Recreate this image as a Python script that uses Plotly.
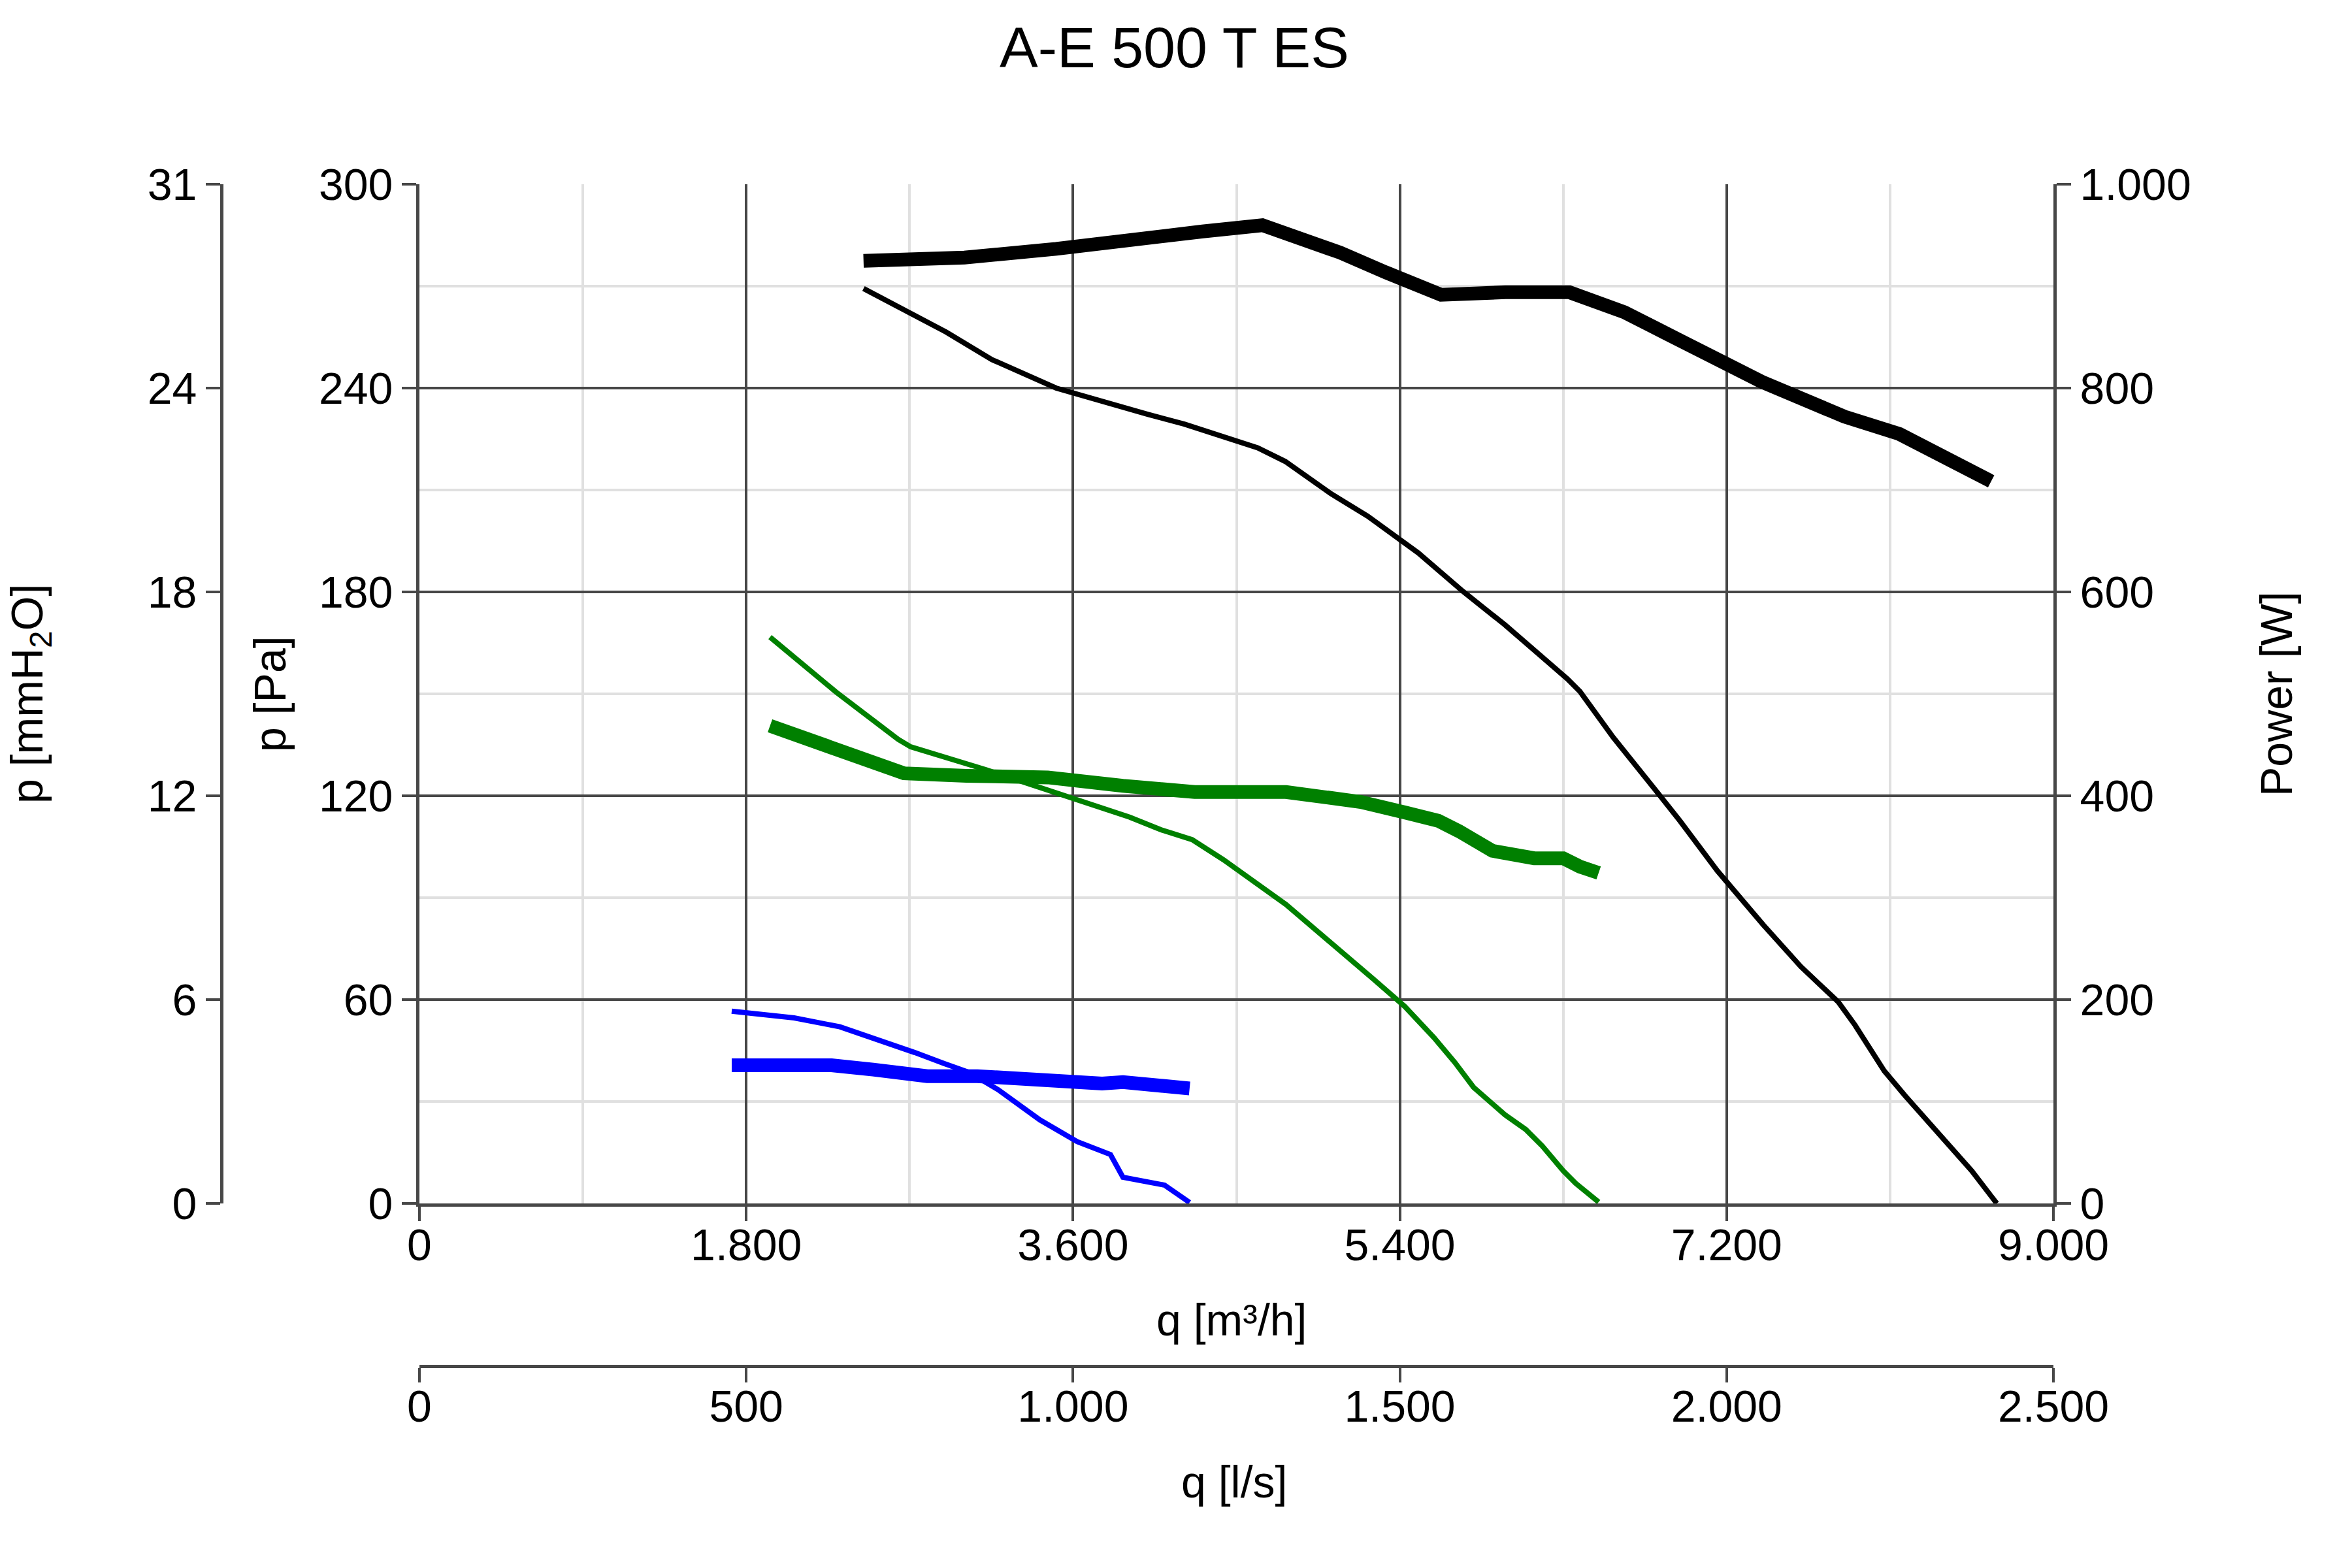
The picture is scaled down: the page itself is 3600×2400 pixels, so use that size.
import plotly.graph_objects as go

# ---------------- data ----------------
# Blue curve (low speed)
blue_q_p = [1720, 2064, 2316, 2499, 2729, 2889, 3027, 3187, 3417, 3623, 3806, 3875, 4104, 4242]
blue_pa = [56.6, 54.6, 52.0, 48.8, 44.4, 41.2, 38.6, 33.5, 24.6, 18.2, 14.4, 7.7, 5.4, 0.3]
blue_q_w = [1720, 2270, 2499, 2797, 3073, 3417, 3646, 3760, 3875, 4104, 4242]
blue_w = [135.5, 135.5, 131.3, 124.9, 124.9, 120.2, 117.0, 117.7, 119.1, 114.9, 112.8]

# Green curve (medium speed)
green_q_p = [1931, 2293, 2637, 2706, 3119, 3326, 3602, 3912, 4084, 4256, 4428, 4773, 5255,
             5427, 5588, 5703, 5806, 5979, 6093, 6185, 6300, 6369, 6495]
green_pa = [166.7, 150.6, 136.6, 134.4, 127.7, 124.0, 119.3, 113.7, 110.0, 107.1, 101.2, 88.0, 66.0,
            58.0, 48.8, 41.5, 34.2, 26.1, 21.8, 16.9, 9.6, 5.9, 0.4]
green_q_w = [1931, 2293, 2669, 3013, 3461, 3874, 4270, 4773, 5186, 5427, 5611, 5726, 5864,
             5910, 6140, 6300, 6392, 6495]
green_w = [468.7, 445.4, 422.0, 419.6, 418.0, 409.8, 403.7, 403.7, 393.9, 383.6, 375.5, 365.2, 348.9,
           346.0, 338.7, 338.7, 330.5, 324.3]

# Black curve (high speed)
black_q_p = [2446, 2901, 3153, 3507, 4011, 4213, 4617, 4769, 5021, 5223, 5501, 5749, 5979, 6323,
             6392, 6575, 6851, 6943, 7149, 7402, 7609, 7815, 7907, 8068, 8183, 8366, 8550, 8688]
black_pa = [269.3, 256.5, 248.4, 240.0, 232.3, 229.4, 222.4, 218.4, 208.9, 202.3, 191.5, 180.1, 170.3, 154.4,
            150.7, 137.2, 118.8, 112.6, 97.9, 82.0, 69.7, 59.3, 52.5, 39.0, 31.7, 20.6, 9.6, 0.0]
black_q_w = [2446, 3002, 3507, 3961, 4314, 4643, 4819, 5072, 5324, 5627, 5981, 6334, 6637, 7091,
             7394, 7849, 8152, 8657]
black_w = [924.9, 928.0, 936.6, 947.6, 953.7, 959.8, 950.0, 932.9, 913.4, 891.5, 894.0, 894.0, 874.4, 835.4,
           806.1, 772.0, 754.9, 708.5]

# Axis ticks
q_m3h_ticks = [0, 1800, 3600, 5400, 7200, 9000]
q_m3h_labels = ["0", "1.800", "3.600", "5.400", "7.200", "9.000"]
q_m3h_minor = [900, 2700, 4500, 6300, 8100]
q_ls_ticks = [0, 500, 1000, 1500, 2000, 2500]
q_ls_labels = ["0", "500", "1.000", "1.500", "2.000", "2.500"]
pa_ticks = [0, 60, 120, 180, 240, 300]
pa_labels = ["0", "60", "120", "180", "240", "300"]
pa_minor = [30, 90, 150, 210, 270]
mmh2o_labels = ["0", "6", "12", "18", "24", "31"]
w_ticks = [0, 200, 400, 600, 800, 1000]
w_labels = ["0", "200", "400", "600", "800", "1.000"]

# ---------------- style ----------------
W, H = 3600, 2400
FONT = "Liberation Sans, Arial, sans-serif"
FS = 68
AX = "#474747"
GRID_MAJOR = "#474747"
GRID_MINOR = "#e0e0e0"
THIN = 8
THICK = 21

x0, x1 = 642 / W, 3143 / W
y0, y1 = 1 - 1842 / H, 1 - 282 / H

fig = go.Figure()


def add(q, v, color, width, yaxis):
    fig.add_trace(go.Scatter(x=q, y=v, mode="lines", yaxis=yaxis, xaxis="x",
                             line=dict(color=color, width=width), hoverinfo="x+y",
                             showlegend=False))


add(blue_q_p, blue_pa, "#0000ff", THIN, "y")
add(green_q_p, green_pa, "#008000", THIN, "y")
add(black_q_p, black_pa, "#000000", THIN, "y")
add(blue_q_w, blue_w, "#0000ff", THICK, "y3")
add(green_q_w, green_w, "#008000", THICK, "y3")
add(black_q_w, black_w, "#000000", THICK, "y3")

axis_common = dict(showline=True, linecolor=AX, linewidth=5, ticks="outside", ticklen=22,
                   tickwidth=4, tickcolor=AX, zeroline=False, automargin=False,
                   tickfont=dict(family=FONT, size=FS, color="black"))

fig.update_layout(
    width=W, height=H,
    margin=dict(l=0, r=0, t=0, b=0, pad=0, autoexpand=False),
    paper_bgcolor="white", plot_bgcolor="white",
    font=dict(family=FONT, size=FS, color="black"),
    xaxis=dict(domain=[x0, x1], range=[0, 9000], tickmode="array",
               tickvals=q_m3h_ticks, ticktext=q_m3h_labels, ticklabelstandoff=-22,
               showgrid=True, gridcolor=GRID_MAJOR, gridwidth=4,
               minor=dict(tickvals=q_m3h_minor, showgrid=True, gridcolor=GRID_MINOR,
                          gridwidth=4, ticks=""),
               anchor="y", **axis_common),
    xaxis2=dict(overlaying="x", anchor="free", position=1 - 2091 / H, side="bottom",
                range=[0, 2500], tickmode="array", tickvals=q_ls_ticks, ticktext=q_ls_labels,
                ticklabelstandoff=-22, showgrid=False, **axis_common),
    yaxis=dict(domain=[y0, y1], range=[0, 300], tickmode="array",
               tickvals=pa_ticks, ticktext=pa_labels,
               showgrid=True, gridcolor=GRID_MAJOR, gridwidth=4,
               minor=dict(tickvals=pa_minor, showgrid=True, gridcolor=GRID_MINOR,
                          gridwidth=4, ticks=""),
               anchor="x", **axis_common),
    yaxis2=dict(overlaying="y", anchor="free", position=339 / W, side="left",
                range=[0, 300], tickmode="array", tickvals=pa_ticks, ticktext=mmh2o_labels,
                showgrid=False, **axis_common),
    yaxis3=dict(overlaying="y", anchor="x", side="right",
                range=[0, 1000], tickmode="array", tickvals=w_ticks, ticktext=w_labels,
                showgrid=False, **axis_common),
)

# empty trace to activate xaxis2 / yaxis2
fig.add_trace(go.Scatter(x=[None], y=[None], xaxis="x2", yaxis="y2", showlegend=False,
                         hoverinfo="skip"))

ann = dict(xref="paper", yref="paper", showarrow=False,
           font=dict(family=FONT, size=FS, color="black"))
fig.add_annotation(text="A-E 500 T ES", x=1797 / W, y=1 - 72 / H, xanchor="center", yanchor="middle",
                   **{**ann, "font": dict(family=FONT, size=88, color="black")})
fig.add_annotation(text="p [mmH<sub>2</sub>O]", x=46 / W, y=1 - 1062 / H, textangle=-90,
                   xanchor="center", yanchor="middle", **ann)
fig.add_annotation(text="p [Pa]", x=413 / W, y=1 - 1062 / H, textangle=-90,
                   xanchor="center", yanchor="middle", **ann)
fig.add_annotation(text="Power [W]", x=3484 / W, y=1 - 1062 / H, textangle=-90,
                   xanchor="center", yanchor="middle", **ann)
fig.add_annotation(text="q [m³/h]", x=1886 / W, y=1 - 2020 / H,
                   xanchor="center", yanchor="middle", **ann)
fig.add_annotation(text="q [l/s]", x=1889 / W, y=1 - 2268 / H,
                   xanchor="center", yanchor="middle", **ann)

fig.write_html("out.html")
